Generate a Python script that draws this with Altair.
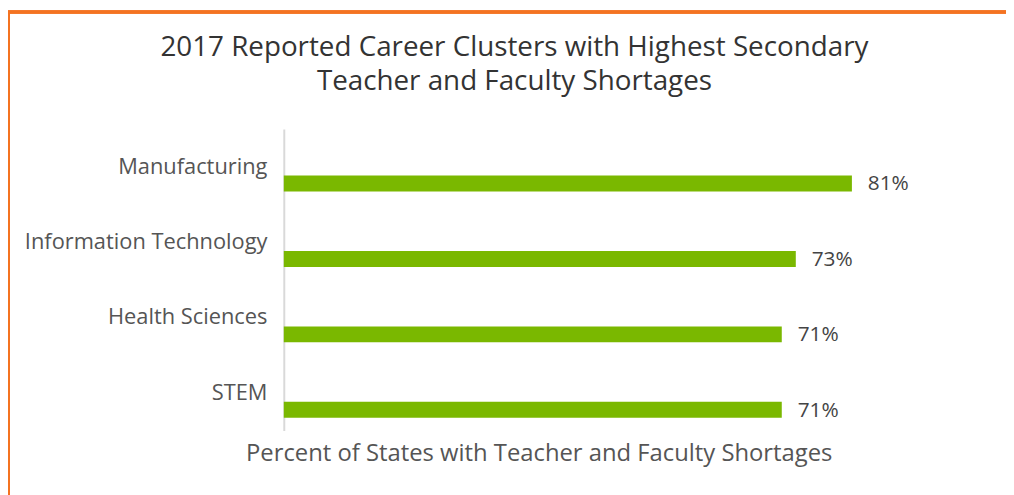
import altair as alt
import pandas as pd

categories = ["Manufacturing", "Information Technology", "Health Sciences", "STEM"]
values = [81, 73, 71, 71]
value_labels = ["81%", "73%", "71%", "71%"]

df = pd.DataFrame({"cat": categories, "val": values, "lab": value_labels})

FONT = "Open Sans"
GREEN = "#7ab800"
ORANGE = "#f47321"

y_enc = alt.Y("cat:N", sort=None, title=None,
              scale=alt.Scale(paddingInner=0, paddingOuter=0),
              axis=alt.Axis(ticks=False, labelPadding=17, labelFontSize=22,
                            labelColor="#555555", labelFont=FONT,
                            domainColor="#d9d9d9", domainWidth=2,
                            labelLimit=400))
x_enc = alt.X("val:Q", scale=alt.Scale(domain=[0, 100]),
              axis=alt.Axis(labels=False, ticks=False, domain=False, grid=False,
                            title="Percent of States with Teacher and Faculty Shortages",
                            titleFont=FONT, titleFontSize=24, titleFontWeight="normal",
                            titleColor="#555555", titleX=257, titleY=23,
                            titleAlign="center", titleBaseline="middle"))

bars = alt.Chart(df).mark_bar(size=16, yOffset=17, color=GREEN).encode(x=x_enc, y=y_enc)
texts = alt.Chart(df).mark_text(align="left", baseline="middle", dx=16, yOffset=18,
                                fontSize=21, font=FONT, color="#444444").encode(
    x="val:Q", y=alt.Y("cat:N", sort=None), text="lab:N")

frame_v = alt.Chart(df).mark_rule(color=ORANGE, strokeWidth=3).encode(
    x=alt.value(-277.5), y=alt.value(-118), y2=alt.value(380))
frame_h = alt.Chart(df).mark_rule(color=ORANGE, strokeWidth=3).encode(
    x=alt.value(-279), x2=alt.value(730), y=alt.value(-118))

chart = alt.layer(bars, texts, frame_v, frame_h).properties(
    width=707, height=304,
    title=alt.TitleParams(
        text=["2017 Reported Career Clusters with Highest Secondary",
              "Teacher and Faculty Shortages"],
        font=FONT, fontSize=28, fontWeight="normal", color="#333333",
        anchor="middle", frame="group", dx=-121, offset=-86, lineHeight=34),
    autosize=alt.AutoSizeParams(type="none"),
    padding={"left": 278, "top": 120, "right": 21, "bottom": 63},
).configure(background="white", view=alt.ViewConfig(stroke=None))

chart.save("out.html", embed_options={"renderer": "svg", "actions": False})
